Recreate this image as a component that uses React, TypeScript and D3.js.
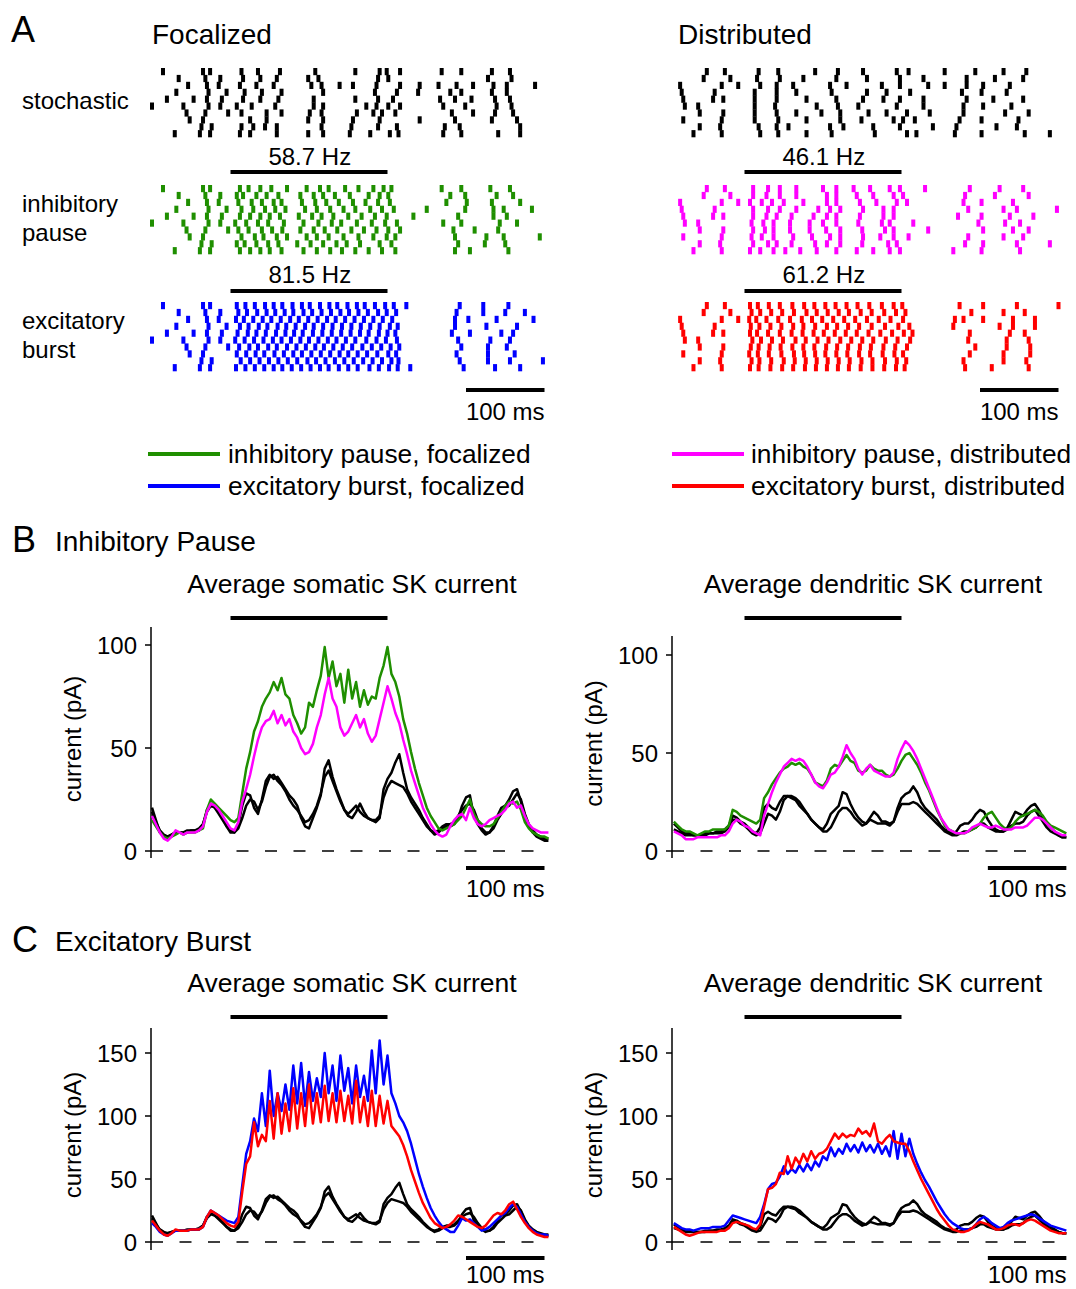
import React from 'react';
import * as d3 from 'd3';

const FONT = "'Liberation Sans', Arial, Helvetica, sans-serif";

// timing (ms)
const stimWindow = [100, 300];
const preCut = 105;
const traceStep = 5;
const somaStart = 0;
const dendStart = 10;

const rateFocal = ['58.7 Hz', '81.5 Hz'];
const rateDistrib = ['46.1 Hz', '61.2 Hz'];
const rowLabels = [['stochastic'], ['inhibitory', 'pause'], ['excitatory', 'burst']];
const legendFocal = ['inhibitory pause, focalized', 'excitatory burst, focalized'];
const legendDistrib = ['inhibitory pause, distributed', 'excitatory burst, distributed'];
const somaTicksB = [0, 50, 100];
const somaTicksC = [0, 50, 100, 150];

// spike times (ms) per trial
const stochFocal = [
  [14, 65, 74, 114, 135, 163, 208, 259, 290, 299, 316, 369, 394, 433, 456],
  [34, 68, 87, 116, 138, 159, 199, 212, 288, 301, 428, 458],
  [46, 70, 85, 112, 133, 155, 203, 216, 239, 256, 286, 316, 341, 365, 388, 409, 435, 452, 488],
  [31, 72, 95, 118, 140, 165, 218, 284, 312, 339, 380, 394, 433, 452],
  [19, 53, 70, 89, 116, 138, 161, 206, 259, 288, 307, 367, 386, 407, 437, 456],
  [0, 40, 72, 87, 108, 127, 157, 206, 218, 273, 286, 301, 316, 371, 399, 439, 458],
  [44, 68, 97, 114, 146, 165, 201, 216, 261, 282, 293, 310, 382, 409, 437, 460],
  [48, 65, 125, 146, 199, 218, 256, 290, 341, 386, 433, 465],
  [63, 76, 114, 129, 144, 159, 216, 254, 288, 312, 373, 392, 469],
  [29, 61, 74, 112, 125, 159, 199, 218, 252, 278, 303, 314, 371, 394, 441, 469],
];
const pauseFocalStim = [
  [112, 123, 138, 152, 172, 197, 214, 225, 246, 263, 282, 295, 305],
  [108, 116, 133, 146, 161, 189, 206, 218, 233, 252, 276, 290, 301],
  [110, 127, 140, 155, 165, 191, 208, 222, 238, 256, 272, 288, 303],
  [114, 129, 144, 157, 170, 195, 210, 227, 244, 259, 278, 293, 308],
  [112, 125, 138, 150, 163, 187, 204, 216, 231, 250, 267, 284, 299],
  [106, 120, 135, 148, 168, 193, 212, 229, 241, 261, 280, 297, 312],
  [110, 123, 140, 153, 166, 189, 206, 220, 236, 254, 270, 286, 301, 316],
  [114, 131, 142, 159, 172, 197, 210, 225, 244, 263, 282, 299, 310],
  [108, 118, 133, 148, 161, 185, 202, 218, 235, 248, 265, 290, 305],
  [112, 125, 138, 150, 165, 193, 210, 227, 242, 259, 276, 293, 310],
];
const pauseFocalPost = [
  [369, 394, 431, 456], [380, 399, 439, 460], [375, 401, 433, 469], [350, 399, 435, 448, 484],
  [333, 390, 435, 452], [371, 394, 443, 465], [384, 411, 441], [386, 426, 448, 494],
  [390, 424, 450], [386, 405, 454],
];
const burstFocalStim = [
  [108, 119, 131, 144, 155, 166, 179, 191, 201, 214, 226, 236, 249, 261, 271, 284, 297, 308],
  [110, 121, 134, 146, 157, 169, 180, 193, 204, 216, 228, 240, 251, 263, 275, 288, 299, 311],
  [107, 117, 129, 141, 152, 164, 176, 187, 199, 211, 223, 234, 246, 258, 270, 282, 294, 306],
  [112, 123, 136, 147, 160, 171, 183, 195, 206, 218, 230, 242, 254, 266, 278, 290, 303, 313],
  [109, 122, 133, 145, 158, 170, 181, 192, 205, 217, 229, 241, 253, 265, 276, 289, 300, 310],
  [106, 118, 130, 142, 154, 165, 177, 189, 200, 212, 224, 235, 247, 259, 273, 286, 298, 312],
  [111, 124, 135, 148, 159, 172, 184, 196, 208, 219, 231, 243, 255, 268, 280, 292, 304, 315],
  [108, 120, 132, 143, 156, 168, 180, 191, 203, 215, 227, 239, 250, 262, 274, 287, 301, 311],
  [113, 125, 137, 149, 161, 173, 185, 198, 209, 221, 233, 245, 257, 269, 281, 293, 305, 314],
  [107, 119, 131, 143, 155, 166, 178, 190, 202, 214, 225, 238, 250, 262, 277, 289, 302, 313],
];
const burstFocalPost = [
  [324, 392, 422, 454], [388, 422, 450, 475], [386, 403, 439, 486], [386, 426, 465],
  [382, 405, 445, 460], [390, 431, 456], [394, 428, 452], [388, 428, 462],
  [392, 428, 456, 498], [329, 397, 437, 469],
];
const stochDistrib = [
  [52, 75, 118, 143, 190, 219, 251, 294, 309, 355, 394, 430, 459],
  [48, 82, 116, 145, 175, 217, 256, 298, 328, 383, 419, 455],
  [18, 71, 92, 120, 141, 162, 209, 230, 275, 298, 334, 355, 383, 404, 438],
  [20, 62, 113, 141, 166, 211, 256, 281, 311, 377, 402, 434],
  [22, 60, 73, 113, 141, 179, 217, 251, 277, 298, 328, 383, 417, 455],
  [24, 41, 113, 139, 192, 219, 245, 294, 328, 379, 404, 440],
  [43, 73, 113, 141, 166, 198, 222, 258, 281, 307, 336, 379, 432, 462],
  [22, 71, 113, 143, 179, 222, 249, 290, 302, 317, 374, 402, 449],
  [43, 69, 118, 141, 156, 209, 226, 264, 298, 340, 370, 421, 447],
  [35, 71, 120, 143, 179, 211, 266, 307, 319, 368, 402, 457, 489],
];
const pauseDistribStim = [
  [111, 130, 145, 166, 200, 217, 239, 260, 285, 298, 330],
  [111, 128, 145, 166, 205, 217, 243, 264, 290, 302],
  [107, 122, 135, 150, 175, 205, 217, 247, 268, 294, 307],
  [111, 130, 145, 166, 194, 209, 222, 251, 277, 290],
  [111, 128, 141, 160, 188, 205, 217, 247, 277, 290],
  [109, 124, 137, 158, 183, 200, 217, 245, 275, 285, 315],
  [111, 126, 137, 158, 183, 204, 222, 250, 279, 290, 334],
  [109, 122, 137, 162, 186, 209, 222, 251, 273, 290, 309],
  [111, 130, 141, 160, 190, 205, 222, 250, 283, 294],
  [107, 120, 137, 152, 171, 192, 217, 243, 264, 285, 298],
];
const pauseDistribPost = [
  [387, 425, 455], [381, 419, 462], [379, 402, 442], [385, 430, 447, 498], [372, 402, 438, 468],
  [398, 432, 451], [404, 442, 462], [385, 430, 455], [381, 404, 447, 489], [366, 402, 451],
];
const burstDistribStim = [
  [107, 117, 131, 145, 161, 176, 189, 203, 216, 230, 244, 259, 275, 290, 301],
  [109, 120, 134, 148, 163, 179, 192, 206, 220, 233, 248, 262, 278, 293, 305],
  [106, 115, 128, 143, 158, 173, 186, 199, 213, 227, 241, 256, 271, 286, 302],
  [108, 119, 133, 147, 162, 175, 190, 205, 218, 232, 246, 262, 279, 296, 310],
  [107, 116, 130, 145, 160, 174, 188, 201, 215, 229, 243, 258, 273, 288, 303, 314],
  [110, 121, 135, 149, 165, 178, 193, 207, 222, 236, 250, 264, 280, 295, 311],
  [108, 118, 132, 146, 161, 175, 189, 204, 218, 232, 247, 261, 277, 292, 307],
  [106, 117, 131, 147, 163, 176, 190, 203, 217, 231, 246, 260, 276, 291, 302],
  [109, 119, 134, 150, 164, 178, 192, 206, 220, 234, 249, 263, 279, 294, 306],
  [107, 118, 133, 148, 162, 177, 191, 205, 219, 233, 248, 263, 278, 293, 304],
];
const burstDistribPost = [
  [374, 404, 447, 500], [389, 430, 457], [368, 379, 404, 442, 470], [366, 425, 442, 470],
  [387, 438, 457], [385, 434, 462], [394, 434, 464], [387, 430, 464], [379, 430, 459], [381, 415, 462],
];

// average SK current (pA), somatic sampled from 0 ms, dendritic from 10 ms, every 5 ms
const somaStochFocal = [21, 15, 9, 7, 7, 8, 9, 9, 9, 10, 10, 10, 11, 13, 20, 23, 21, 19, 16, 12, 9, 9, 13, 22, 28, 27, 21, 18, 25, 34, 37, 35, 36, 33, 30, 27, 25, 22, 16, 12, 11, 16, 21, 27, 40, 44, 36, 30, 25, 20, 17, 16, 19, 23, 19, 16, 15, 14, 16, 30, 35, 38, 43, 47, 38, 30, 26, 23, 20, 16, 13, 10, 8, 9, 11, 12, 12, 13, 16, 22, 26, 27, 17, 13, 10, 8, 9, 12, 17, 21, 22, 25, 29, 30, 24, 17, 12, 9, 7, 6, 5, 5];
const somaStochDistrib = [19, 14, 10, 8, 7, 8, 9, 9, 9, 9, 10, 10, 10, 13, 19, 22, 21, 18, 15, 12, 10, 9, 11, 16, 22, 25, 24, 20, 24, 31, 36, 37, 34, 32, 29, 25, 22, 20, 17, 14, 15, 18, 22, 28, 36, 39, 34, 29, 24, 20, 18, 20, 22, 19, 17, 16, 15, 15, 17, 26, 31, 34, 33, 32, 31, 28, 24, 21, 18, 15, 12, 10, 9, 10, 12, 13, 13, 14, 17, 20, 22, 23, 20, 15, 11, 9, 9, 11, 15, 18, 21, 22, 25, 28, 25, 18, 13, 10, 8, 7, 6, 6];
const somaPauseFocal = [15, 12, 9, 7, 6, 7, 8, 9, 8, 9, 9, 9, 10, 11, 20, 25, 23, 21, 19, 17, 15, 14, 16, 28, 40, 48, 58, 63, 70, 74, 77, 82, 78, 84, 76, 74, 66, 62, 57, 60, 72, 70, 78, 85, 99, 84, 92, 80, 86, 72, 88, 74, 82, 70, 78, 71, 75, 74, 84, 90, 99, 86, 82, 75, 64, 57, 48, 40, 33, 27, 21, 17, 14, 11, 10, 11, 12, 13, 15, 17, 21, 25, 18, 15, 13, 12, 12, 13, 16, 19, 22, 24, 23, 24, 20, 14, 11, 9, 8, 7, 7, 6];
const somaPauseDistrib = [17, 13, 9, 6, 5, 7, 10, 9, 8, 9, 9, 9, 10, 12, 19, 23, 22, 20, 17, 14, 11, 10, 14, 24, 30, 37, 46, 54, 60, 63, 64, 68, 62, 66, 61, 64, 58, 55, 50, 47, 48, 52, 60, 66, 76, 84, 74, 70, 60, 56, 58, 62, 66, 60, 64, 57, 53, 56, 64, 72, 80, 74, 67, 62, 54, 47, 39, 33, 27, 21, 17, 13, 10, 8, 7, 8, 12, 15, 17, 18, 15, 21, 16, 13, 12, 13, 15, 16, 17, 18, 20, 23, 24, 21, 22, 17, 13, 11, 10, 9, 9, 9];
const somaBurstFocal = [15, 12, 8, 6, 5, 7, 9, 9, 9, 9, 10, 10, 10, 12, 20, 25, 23, 21, 19, 17, 16, 15, 20, 45, 70, 80, 98, 88, 118, 92, 136, 100, 118, 104, 125, 105, 140, 110, 142, 108, 135, 112, 130, 115, 150, 118, 140, 112, 148, 120, 138, 110, 140, 115, 132, 112, 152, 118, 160, 125, 148, 118, 110, 100, 95, 88, 78, 66, 54, 44, 35, 27, 21, 16, 12, 10, 8, 8, 13, 19, 17, 18, 15, 12, 9, 10, 12, 15, 18, 21, 23, 27, 30, 28, 22, 16, 12, 9, 7, 6, 6, 5];
const somaBurstDistrib = [17, 13, 9, 6, 5, 7, 10, 9, 9, 9, 10, 10, 10, 12, 20, 25, 23, 21, 18, 15, 13, 12, 16, 40, 62, 68, 95, 76, 85, 80, 112, 82, 118, 86, 110, 88, 122, 90, 118, 92, 125, 94, 118, 95, 124, 96, 118, 95, 120, 96, 116, 94, 128, 95, 115, 92, 120, 92, 116, 94, 112, 92, 88, 84, 77, 68, 57, 48, 39, 31, 25, 19, 15, 13, 11, 12, 14, 17, 21, 20, 18, 16, 14, 12, 11, 13, 17, 21, 23, 22, 25, 30, 32, 26, 20, 15, 11, 8, 6, 5, 4, 4];
const dendStochFocal = [14, 12, 10, 9, 9, 8, 8, 8, 9, 9, 9, 10, 10, 11, 13, 18, 17, 15, 14, 12, 10, 9, 12, 22, 24, 22, 21, 25, 28, 28, 27, 26, 23, 21, 19, 16, 14, 12, 11, 14, 19, 21, 23, 30, 29, 24, 20, 17, 15, 14, 17, 20, 18, 15, 15, 14, 15, 22, 27, 29, 30, 33, 30, 25, 22, 20, 18, 16, 13, 11, 10, 9, 10, 13, 14, 14, 16, 19, 21, 20, 16, 13, 11, 10, 10, 12, 16, 20, 19, 18, 21, 23, 24, 21, 17, 14, 12, 10, 8, 7, 7];
const dendStochDistrib = [11, 10, 9, 8, 8, 8, 8, 8, 8, 9, 9, 9, 9, 10, 12, 16, 16, 14, 13, 11, 9, 8, 9, 14, 19, 18, 16, 20, 26, 28, 28, 27, 25, 22, 19, 16, 14, 12, 10, 10, 12, 16, 20, 22, 22, 20, 17, 15, 13, 14, 16, 15, 14, 14, 14, 13, 15, 20, 24, 24, 24, 25, 24, 22, 20, 18, 16, 14, 12, 10, 9, 8, 8, 9, 10, 10, 11, 12, 14, 14, 12, 11, 10, 10, 10, 11, 13, 14, 14, 15, 18, 20, 21, 18, 15, 12, 10, 9, 8, 7, 7];
const dendPauseFocal = [15, 13, 11, 10, 10, 9, 8, 9, 10, 10, 11, 11, 11, 11, 13, 21, 20, 18, 17, 16, 15, 14, 16, 27, 30, 34, 37, 40, 42, 43, 45, 44, 45, 43, 42, 39, 35, 34, 33, 36, 42, 44, 43, 46, 49, 46, 45, 41, 40, 41, 44, 42, 41, 41, 39, 38, 39, 42, 46, 49, 50, 47, 44, 40, 35, 31, 26, 21, 17, 13, 11, 10, 9, 9, 9, 10, 11, 12, 14, 17, 19, 20, 17, 14, 12, 11, 12, 15, 17, 18, 19, 20, 21, 20, 18, 15, 13, 12, 11, 10, 9];
const dendPauseDistrib = [10, 9, 8, 6, 6, 6, 7, 7, 7, 7, 7, 7, 8, 8, 10, 14, 16, 15, 13, 12, 10, 9, 8, 18, 24, 30, 35, 39, 43, 45, 47, 46, 47, 46, 43, 39, 35, 33, 32, 35, 39, 40, 43, 48, 54, 50, 47, 42, 39, 42, 44, 41, 40, 39, 38, 38, 40, 47, 52, 56, 54, 51, 47, 42, 37, 32, 27, 22, 17, 14, 11, 10, 9, 9, 9, 10, 12, 13, 14, 13, 12, 12, 13, 12, 11, 11, 11, 12, 12, 12, 13, 15, 17, 17, 16, 14, 12, 10, 9, 8, 8];
const dendBurstFocal = [15, 13, 11, 10, 10, 9, 10, 11, 11, 11, 12, 12, 12, 13, 17, 21, 20, 19, 18, 17, 16, 15, 20, 30, 42, 46, 47, 52, 60, 54, 58, 55, 61, 56, 62, 57, 64, 60, 68, 65, 75, 68, 74, 70, 78, 72, 77, 71, 79, 72, 77, 71, 78, 70, 76, 68, 88, 66, 86, 68, 82, 70, 62, 55, 49, 44, 38, 32, 27, 22, 18, 15, 13, 11, 10, 10, 11, 14, 18, 20, 18, 15, 13, 11, 12, 15, 17, 18, 19, 20, 21, 22, 21, 19, 17, 15, 13, 12, 11, 10, 9];
const dendBurstDistrib = [12, 10, 8, 6, 5, 6, 7, 8, 8, 8, 8, 8, 9, 9, 11, 15, 16, 15, 14, 13, 11, 10, 14, 28, 42, 43, 46, 55, 54, 68, 58, 67, 62, 70, 64, 72, 66, 70, 71, 74, 80, 86, 82, 86, 83, 85, 84, 90, 86, 88, 84, 94, 80, 78, 82, 85, 80, 79, 78, 78, 72, 64, 57, 50, 44, 38, 32, 26, 21, 17, 13, 10, 9, 8, 8, 9, 11, 14, 16, 15, 14, 12, 10, 10, 11, 13, 14, 14, 13, 15, 17, 18, 17, 15, 13, 11, 9, 8, 7, 7, 7];

const GREEN = '#1f8f00';
const BLUE = '#0000ff';
const MAGENTA = '#ff00ff';
const RED = '#ff0000';

const pxPerMs = 0.785;
const xLeft = d3.scaleLinear().domain([0, 500]).range([152, 152 + 500 * pxPerMs]);
const xRight = d3.scaleLinear().domain([0, 500]).range([666, 666 + 500 * pxPerMs]);

const combine = (pre: number[][], stim: number[][], post: number[][]) =>
  pre.map((row, i) => row.filter(t => t < preCut).concat(stim[i], post[i]));

// one tick per spike, 10 trials stacked
const Raster = ({ x, top, rows, color }: any) => (
  <g>
    {rows.map((row: number[], i: number) =>
      row.map((t, j) => (
        <rect key={i + '-' + j} x={x(t) - 2} y={top + i * 6.9} width={4} height={7.2} fill={color} />
      ))
    )}
  </g>
);

const Bar = ({ x, t0, t1, y }: any) => (
  <rect x={x(t0)} y={y - 2} width={x(t1) - x(t0)} height={4} fill="#000" />
);

const Txt = ({ children, size = 24, anchor = 'start', ...rest }: any) => (
  <text fontFamily={FONT} fontSize={size} textAnchor={anchor} fill="#000" {...rest}>{children}</text>
);

const TraceChart = ({ x, y, axisX, axisTop, axisBottom, ticks, start, traces, labelX }: any) => {
  const line = d3.line<number>()
    .x((_, i) => x(start + i * traceStep))
    .y(d => y(d));
  const xEnd = x(start + (traces[0].values.length - 1) * traceStep);
  const y0 = y(0);
  const yMid = (axisTop + y0) / 2;
  return (
    <g>
      <line x1={axisX} x2={xEnd} y1={y0} y2={y0} stroke="#000" strokeWidth={1.5} strokeDasharray="12,16.5" />
      <line x1={axisX} x2={axisX} y1={axisTop} y2={axisBottom} stroke="#000" strokeWidth={1.5} />
      {ticks.map((v: number) => (
        <g key={v}>
          <line x1={axisX - 6} x2={axisX} y1={y(v)} y2={y(v)} stroke="#000" strokeWidth={1.5} />
          <Txt x={axisX - 14} y={y(v) + 8.5} anchor="end">{v}</Txt>
        </g>
      ))}
      <Txt x={labelX} y={yMid} anchor="middle" transform={`rotate(-90, ${labelX}, ${yMid})`}>current (pA)</Txt>
      {traces.map((tr: any, i: number) => (
        <path key={i} d={line(tr.values) || ''} fill="none" stroke={tr.color} strokeWidth={2.5} strokeLinejoin="round" />
      ))}
    </g>
  );
};

export default function App() {
  const rastersFocal = [
    { rows: stochFocal, color: '#000' },
    { rows: combine(stochFocal, pauseFocalStim, pauseFocalPost), color: GREEN },
    { rows: combine(stochFocal, burstFocalStim, burstFocalPost), color: BLUE },
  ];
  const rastersDistrib = [
    { rows: stochDistrib, color: '#000' },
    { rows: combine(stochDistrib, pauseDistribStim, pauseDistribPost), color: MAGENTA },
    { rows: combine(stochDistrib, burstDistribStim, burstDistribPost), color: RED },
  ];
  const rasterTops = [68, 185, 302];
  const rateBaselines = [165, 283];
  const stimBarY = [172, 291];

  const yB_left = d3.scaleLinear().domain([0, 100]).range([851, 645]);
  const yB_right = d3.scaleLinear().domain([0, 100]).range([851, 655]);
  const yC = d3.scaleLinear().domain([0, 150]).range([1242, 1053]);

  return (
    <div style={{ position: 'absolute', left: 0, top: 0, background: '#fff' }}>
      <svg width={1076} height={1289} style={{ display: 'block' }}>
        <rect width={1076} height={1289} fill="#fff" />

        {/* Panel A */}
        <Txt x={11} y={42} size={36}>A</Txt>
        <Txt x={152} y={44} size={28}>Focalized</Txt>
        <Txt x={678} y={44} size={28}>Distributed</Txt>
        <Txt x={22} y={109}>{rowLabels[0][0]}</Txt>
        <Txt x={22} y={212}>{rowLabels[1][0]}</Txt>
        <Txt x={22} y={241}>{rowLabels[1][1]}</Txt>
        <Txt x={22} y={329}>{rowLabels[2][0]}</Txt>
        <Txt x={22} y={358}>{rowLabels[2][1]}</Txt>

        {rastersFocal.map((r, i) => <Raster key={'f' + i} x={xLeft} top={rasterTops[i]} rows={r.rows} color={r.color} />)}
        {rastersDistrib.map((r, i) => <Raster key={'d' + i} x={xRight} top={rasterTops[i]} rows={r.rows} color={r.color} />)}

        {[0, 1].map(i => (
          <g key={'sb' + i}>
            <Bar x={xLeft} t0={stimWindow[0]} t1={stimWindow[1]} y={stimBarY[i]} />
            <Bar x={xRight} t0={stimWindow[0]} t1={stimWindow[1]} y={stimBarY[i]} />
            <Txt x={xLeft(201)} y={rateBaselines[i]} anchor="middle">{rateFocal[i]}</Txt>
            <Txt x={xRight(201)} y={rateBaselines[i]} anchor="middle">{rateDistrib[i]}</Txt>
          </g>
        ))}

        <Bar x={xLeft} t0={400} t1={500} y={390} />
        <Txt x={xLeft(450)} y={420} anchor="middle">100 ms</Txt>
        <Bar x={xRight} t0={400} t1={500} y={390} />
        <Txt x={xRight(450)} y={420} anchor="middle">100 ms</Txt>

        {/* legend */}
        <line x1={148} x2={220} y1={454} y2={454} stroke={GREEN} strokeWidth={4} />
        <Txt x={228} y={463} size={26.3}>{legendFocal[0]}</Txt>
        <line x1={148} x2={220} y1={486} y2={486} stroke={BLUE} strokeWidth={4} />
        <Txt x={228} y={495} size={26.3}>{legendFocal[1]}</Txt>
        <line x1={672} x2={744} y1={454} y2={454} stroke={MAGENTA} strokeWidth={4} />
        <Txt x={751} y={463} size={26.3}>{legendDistrib[0]}</Txt>
        <line x1={672} x2={744} y1={486} y2={486} stroke={RED} strokeWidth={4} />
        <Txt x={751} y={495} size={26.3}>{legendDistrib[1]}</Txt>

        {/* Panel B */}
        <Txt x={12} y={552} size={36}>B</Txt>
        <Txt x={55} y={551} size={28}>Inhibitory Pause</Txt>
        <Txt x={352} y={593} size={26.5} anchor="middle">Average somatic SK current</Txt>
        <Txt x={873} y={593} size={26.5} anchor="middle">Average dendritic SK current</Txt>
        <Bar x={xLeft} t0={stimWindow[0]} t1={stimWindow[1]} y={618} />
        <Bar x={xRight} t0={stimWindow[0]} t1={stimWindow[1]} y={618} />
        <TraceChart x={xLeft} y={yB_left} axisX={151} axisTop={627} axisBottom={858} ticks={somaTicksB}
          start={somaStart} labelX={81}
          traces={[
            { values: somaStochFocal, color: '#000' },
            { values: somaStochDistrib, color: '#000' },
            { values: somaPauseFocal, color: GREEN },
            { values: somaPauseDistrib, color: MAGENTA },
          ]} />
        <TraceChart x={xRight} y={yB_right} axisX={672} axisTop={636} axisBottom={858} ticks={somaTicksB}
          start={dendStart} labelX={602}
          traces={[
            { values: dendStochFocal, color: '#000' },
            { values: dendStochDistrib, color: '#000' },
            { values: dendPauseFocal, color: GREEN },
            { values: dendPauseDistrib, color: MAGENTA },
          ]} />
        <Bar x={xLeft} t0={400} t1={500} y={868} />
        <Txt x={xLeft(450)} y={897} anchor="middle">100 ms</Txt>
        <Bar x={xRight} t0={410} t1={510} y={868} />
        <Txt x={xRight(460)} y={897} anchor="middle">100 ms</Txt>

        {/* Panel C */}
        <Txt x={12} y={952} size={36}>C</Txt>
        <Txt x={55} y={951} size={28}>Excitatory Burst</Txt>
        <Txt x={352} y={992} size={26.5} anchor="middle">Average somatic SK current</Txt>
        <Txt x={873} y={992} size={26.5} anchor="middle">Average dendritic SK current</Txt>
        <Bar x={xLeft} t0={stimWindow[0]} t1={stimWindow[1]} y={1017} />
        <Bar x={xRight} t0={stimWindow[0]} t1={stimWindow[1]} y={1017} />
        <TraceChart x={xLeft} y={yC} axisX={151} axisTop={1028} axisBottom={1250} ticks={somaTicksC}
          start={somaStart} labelX={81}
          traces={[
            { values: somaStochFocal, color: '#000' },
            { values: somaStochDistrib, color: '#000' },
            { values: somaBurstFocal, color: BLUE },
            { values: somaBurstDistrib, color: RED },
          ]} />
        <TraceChart x={xRight} y={yC} axisX={672} axisTop={1028} axisBottom={1250} ticks={somaTicksC}
          start={dendStart} labelX={602}
          traces={[
            { values: dendStochFocal, color: '#000' },
            { values: dendStochDistrib, color: '#000' },
            { values: dendBurstFocal, color: BLUE },
            { values: dendBurstDistrib, color: RED },
          ]} />
        <Bar x={xLeft} t0={400} t1={500} y={1258} />
        <Txt x={xLeft(450)} y={1283} anchor="middle">100 ms</Txt>
        <Bar x={xRight} t0={410} t1={510} y={1258} />
        <Txt x={xRight(460)} y={1283} anchor="middle">100 ms</Txt>
      </svg>
    </div>
  );
}
